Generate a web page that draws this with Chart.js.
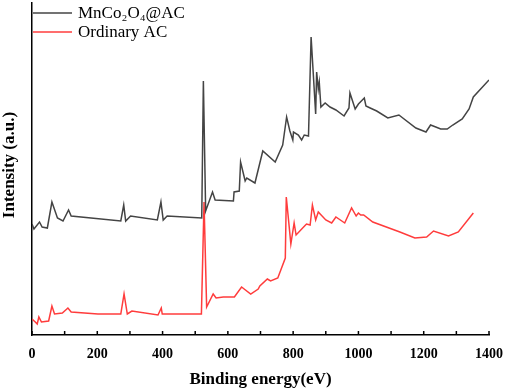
<!DOCTYPE html>
<html>
<head>
<meta charset="utf-8">
<script src="https://cdn.jsdelivr.net/npm/chart.js@4"></script>
<style>
  html, body { margin: 0; padding: 0; background: #fff; }
  #wrap { width: 505px; height: 390px; }
</style>
</head>
<body>
<div id="wrap"><canvas id="xpsChart" width="505" height="390"></canvas></div>
<script>
// series labels
const seriesNames = ['MnCo\u2082O\u2084@AC', 'Ordinary AC'];

// MnCo2O4@AC survey
const mncoEnergy = [0, 6, 23, 31, 47, 61, 78, 95, 112, 120, 272, 281, 287, 302, 384, 395, 402, 414, 520, 525,
  532, 553, 561, 617, 619, 635, 639, 653, 658, 683, 707, 745, 768, 780, 790, 799, 801, 816, 826, 834,
  847, 855, 869, 872, 877, 880, 885, 898, 913, 931, 956, 971, 974, 990, 1000, 1018, 1023, 1036, 1056, 1090,
  1124, 1176, 1207, 1221, 1237, 1252, 1272, 1289, 1318, 1339, 1352, 1400];
const mncoIntensity = [111, 106, 113, 108, 107, 133, 117, 114, 125, 119, 114, 130, 114, 119, 115, 133, 115, 119, 117, 254,
  124, 143, 135, 134, 143, 144, 173, 154, 157, 152, 184, 173, 190, 218, 204, 195, 203, 200, 195, 200,
  199, 298, 221, 263, 246, 253, 228, 232, 228, 225, 219, 227, 242, 226, 231, 237, 229, 227, 224, 217,
  220, 207, 203, 210, 208, 206, 206, 210, 216, 226, 238, 255];

// Ordinary AC survey
const acEnergy = [0, 10, 16, 21, 29, 51, 61, 69, 93, 110, 120, 202, 272, 282, 292, 306, 386, 396, 399, 519,
  527, 535, 555, 564, 586, 620, 642, 670, 693, 698, 721, 731, 753, 776, 779, 785, 793, 803, 809, 835,
  841, 852, 859, 869, 877, 900, 918, 931, 958, 979, 993, 1000, 1007, 1016, 1044, 1127, 1173, 1209, 1230, 1276,
  1306, 1352];
const acIntensity = [16, 13, 11, 18, 13, 14, 29, 21, 22, 27, 23, 21, 21, 41, 21, 24, 20, 27, 21, 21,
  133, 28, 41, 37, 38, 38, 48, 41, 46, 49, 56, 54, 57, 77, 138, 118, 91, 112, 100, 109,
  111, 110, 130, 115, 123, 115, 112, 118, 112, 127, 119, 122, 120, 120, 113, 103, 97, 98, 104, 99,
  103, 122];

// axis
const xMin = 0, xMax = 1400, xStep = 100;
const yMin = 0, yMax = 332;

const serif = '"Liberation Serif", "Times New Roman", serif';
const colors = ['#444444', '#ff3c3c'];

function toPoints(xs, ys) {
    return xs.map((x, i) => ({ x: x, y: ys[i] }));
}

// inner ticks, legend and rotated y title
const decorPlugin = {
    id: 'decor',
    afterDraw(chart) {
        const ctx = chart.ctx;
        const xs = chart.scales.x;
        const area = chart.chartArea;
        ctx.save();

        // ticks pointing into the plot
        ctx.strokeStyle = '#000';
        ctx.lineWidth = 1.5;
        xs.ticks.forEach((t, i) => {
            const px = xs.getPixelForTick(i);
            ctx.beginPath();
            ctx.moveTo(px, area.bottom);
            ctx.lineTo(px, area.bottom - 4);
            ctx.stroke();
        });

        // legend
        ctx.font = '17px ' + serif;
        ctx.textBaseline = 'middle';
        ctx.fillStyle = '#000';
        const rows = [13, 32];
        chart.data.datasets.forEach((ds, i) => {
            ctx.strokeStyle = ds.borderColor;
            ctx.lineWidth = 1.5;
            ctx.beginPath();
            ctx.moveTo(33, rows[i]);
            ctx.lineTo(72, rows[i]);
            ctx.stroke();
            ctx.fillText(ds.label, 78, rows[i] + 1);
        });

        // y axis title
        ctx.translate(10, 165);
        ctx.rotate(-Math.PI / 2);
        ctx.font = 'bold 17px ' + serif;
        ctx.textAlign = 'center';
        ctx.textBaseline = 'middle';
        ctx.fillText('Intensity (a.u.)', 0, 0);
        ctx.restore();
    }
};

function createChart() {
    const ctx = document.getElementById('xpsChart').getContext('2d');
    return new Chart(ctx, {
        type: 'line',
        data: {
            datasets: [{
                label: seriesNames[0],
                data: toPoints(mncoEnergy, mncoIntensity),
                borderColor: colors[0],
                borderWidth: 1.5,
                pointRadius: 0,
                tension: 0
            }, {
                label: seriesNames[1],
                data: toPoints(acEnergy, acIntensity),
                borderColor: colors[1],
                borderWidth: 1.5,
                pointRadius: 0,
                tension: 0
            }]
        },
        options: {
            responsive: false,
            animation: false,
            devicePixelRatio: 1,
            layout: { padding: { top: 3, right: 16, left: 0, bottom: 0 } },
            plugins: {
                legend: { display: false },
                tooltip: { enabled: false }
            },
            scales: {
                x: {
                    type: 'linear',
                    min: xMin,
                    max: xMax,
                    afterFit: (s) => {
                        s.height = 55;
                        s.paddingLeft = 0;
                        s.paddingRight = 0;
                    },
                    border: { display: true, color: '#000', width: 1.5 },
                    grid: { display: true, drawOnChartArea: false, drawTicks: false },
                    ticks: {
                        stepSize: xStep,
                        autoSkip: false,
                        maxRotation: 0,
                        padding: 11,
                        color: '#000',
                        font: { family: serif, size: 14, weight: 'bold' },
                        callback: (v) => (v % 200 === 0 ? String(v) : '')
                    },
                    title: {
                        display: true,
                        text: 'Binding energy(eV)',
                        color: '#000',
                        font: { family: serif, size: 17, weight: 'bold' },
                        padding: { top: 0, bottom: 0 }
                    }
                },
                y: {
                    min: yMin,
                    max: yMax,
                    afterFit: (s) => { s.width = 32; },
                    border: { display: true, color: '#000', width: 1.5 },
                    grid: { display: false },
                    ticks: { display: false }
                }
            }
        },
        plugins: [decorPlugin]
    });
}

document.addEventListener('DOMContentLoaded', createChart);
</script>
</body>
</html>
